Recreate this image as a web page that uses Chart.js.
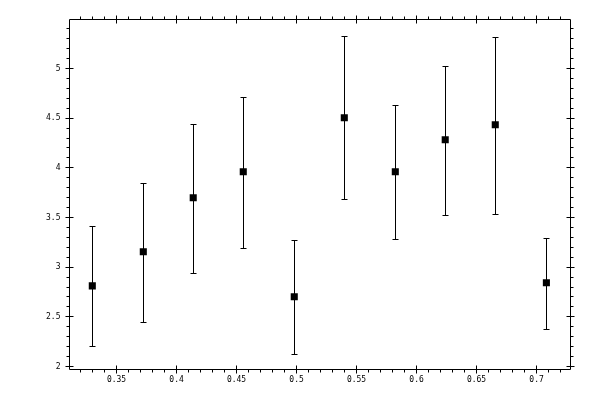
<!DOCTYPE html>
<html>
<head>
<meta charset="utf-8">
<script src="https://cdn.jsdelivr.net/npm/chart.js@4.4.0/dist/chart.umd.min.js"></script>
<style>
html,body{margin:0;padding:0;background:#fff;}
#wrap{width:600px;height:400px;}
</style>
</head>
<body>
<div id="wrap"><canvas id="c" width="600" height="400"></canvas></div>
<script>
// Data
const xValues = [0.3298, 0.3723, 0.4139, 0.4556, 0.4981, 0.5398, 0.5823, 0.6239, 0.6656, 0.7082];
const yValues = [2.812, 3.155, 3.698, 3.960, 2.702, 4.504, 3.960, 4.282, 4.433, 2.843];
const yLow    = [2.208, 2.450, 2.943, 3.195, 2.127, 3.688, 3.286, 3.530, 3.540, 2.379];
const yHigh   = [3.416, 3.849, 4.443, 4.718, 3.271, 5.329, 4.630, 5.027, 5.322, 3.295];

const xTicks = [0.35, 0.4, 0.45, 0.5, 0.55, 0.6, 0.65, 0.7];
const xTickLabels = ['0.35', '0.4', '0.45', '0.5', '0.55', '0.6', '0.65', '0.7'];
const yTicks = [2, 2.5, 3, 3.5, 4, 4.5, 5];
const yTickLabels = ['2', '2.5', '3', '3.5', '4', '4.5', '5'];
const xMinorStep = 0.01;
const yMinorStep = 0.1;

const points = xValues.map((x, i) => ({x: x, y: yValues[i]}));

const frameAndTicks = {
  id: 'frameAndTicks',
  beforeDatasetsDraw(chart) {
    const ctx = chart.ctx;
    const a = chart.chartArea;
    const xs = chart.scales.x, ys = chart.scales.y;
    const crisp = v => Math.floor(v) + 0.5;
    ctx.save();
    ctx.strokeStyle = '#000';
    ctx.lineWidth = 1;
    ctx.beginPath();
    ctx.rect(a.left, a.top, a.right - a.left, a.bottom - a.top);
    ctx.stroke();
    // minor x ticks (outward, bottom & top)
    ctx.beginPath();
    const xi0 = Math.ceil(xs.min / xMinorStep), xi1 = Math.floor(xs.max / xMinorStep);
    for (let i = xi0; i <= xi1; i++) {
      const p = crisp(xs.getPixelForValue(i * xMinorStep));
      ctx.moveTo(p, a.bottom); ctx.lineTo(p, a.bottom + 3);
      ctx.moveTo(p, a.top); ctx.lineTo(p, a.top - 3);
    }
    const yi0 = Math.ceil(ys.min / yMinorStep), yi1 = Math.floor(ys.max / yMinorStep);
    for (let i = yi0; i <= yi1; i++) {
      const p = crisp(ys.getPixelForValue(i * yMinorStep));
      ctx.moveTo(a.left, p); ctx.lineTo(a.left - 3, p);
      ctx.moveTo(a.right, p); ctx.lineTo(a.right + 3, p);
    }
    // major ticks (crossing)
    xTicks.forEach(v => {
      const p = crisp(xs.getPixelForValue(v));
      ctx.moveTo(p, a.bottom - 4); ctx.lineTo(p, a.bottom + 4);
      ctx.moveTo(p, a.top + 4); ctx.lineTo(p, a.top - 4);
    });
    yTicks.forEach(v => {
      const p = crisp(ys.getPixelForValue(v));
      ctx.moveTo(a.left - 4, p); ctx.lineTo(a.left + 4, p);
      ctx.moveTo(a.right - 4, p); ctx.lineTo(a.right + 4, p);
    });
    ctx.stroke();
    // error bars
    ctx.beginPath();
    xValues.forEach((x, i) => {
      const px = crisp(xs.getPixelForValue(x));
      const lo = Math.round(ys.getPixelForValue(yLow[i])) + 0.5;
      const hi = Math.round(ys.getPixelForValue(yHigh[i])) + 0.5;
      ctx.moveTo(px, lo); ctx.lineTo(px, hi);
      ctx.moveTo(px - 3, lo); ctx.lineTo(px + 3, lo);
      ctx.moveTo(px - 3, hi); ctx.lineTo(px + 3, hi);
    });
    ctx.stroke();
    ctx.restore();
  }
};

const tickFont = {family: 'DejaVu Sans Mono', size: 8};

new Chart(document.getElementById('c'), {
  type: 'scatter',
  data: {
    datasets: [{
      data: points,
      pointStyle: 'rect',
      pointRadius: 5,
      pointBorderWidth: 0,
      backgroundColor: '#000',
      borderColor: '#000'
    }]
  },
  options: {
    responsive: false,
    animation: false,
    devicePixelRatio: 1,
    layout: {padding: {left: 0, top: 19.5, right: 29.5, bottom: 0}},
    plugins: {legend: {display: false}, tooltip: {enabled: false}},
    scales: {
      x: {
        type: 'linear',
        min: 0.3108,
        max: 0.7283,
        grid: {display: false, drawTicks: true, tickLength: 3},
        border: {display: false},
        afterBuildTicks: s => { s.ticks = xTicks.map(v => ({value: v})); },
        afterFit: s => { s.height = 30.5; },
        ticks: {
          autoSkip: false, maxRotation: 0, padding: 3, color: '#000', font: tickFont,
          callback: (v, i) => xTickLabels[i]
        }
      },
      y: {
        type: 'linear',
        min: 1.9698,
        max: 5.4933,
        grid: {display: false, drawTicks: true, tickLength: 6},
        border: {display: false},
        afterBuildTicks: s => { s.ticks = yTicks.map(v => ({value: v})); },
        afterFit: s => { s.width = 69.5; },
        ticks: {
          autoSkip: false, padding: 3, color: '#000', font: tickFont,
          callback: (v, i) => yTickLabels[i]
        }
      }
    }
  },
  plugins: [frameAndTicks]
});
</script>
</body>
</html>
